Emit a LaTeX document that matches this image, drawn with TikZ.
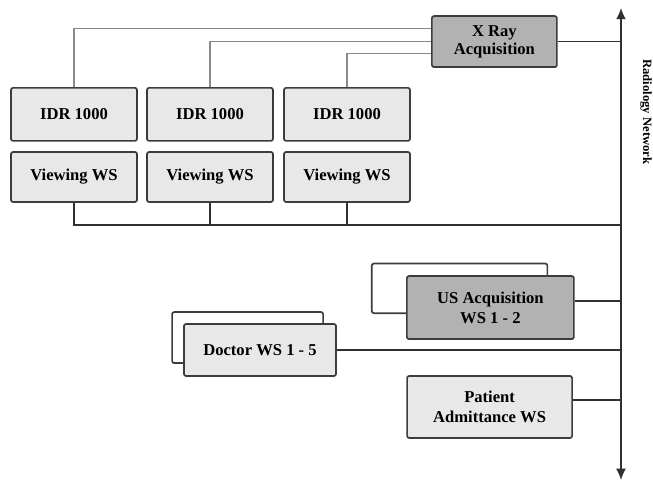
\documentclass[tikz,border=0pt]{standalone}
\usepackage{fontspec}
\setmainfont{Liberation Serif}
\usetikzlibrary{arrows.meta}
\begin{document}
\begin{tikzpicture}[
    box/.style={draw=boxline,line width=1.2pt,rounded corners=1.5pt,fill=lightbox,
      align=center,inner sep=2pt,font=\fontsize{11.8}{14}\selectfont\bfseries},
    darkbox/.style={box,fill=darkfill},
    backbox/.style={draw=boxline,line width=1.2pt,rounded corners=1.5pt,fill=white},
    link/.style={draw=linkgray,line width=1pt},
    bus/.style={draw=busline,line width=1pt}
  ]
  \definecolor{boxline}{HTML}{3C3C3C}
  \definecolor{lightbox}{HTML}{E8E8E8}
  \definecolor{darkfill}{HTML}{B2B2B2}
  \definecolor{linkgray}{HTML}{8A8A8A}
  \definecolor{busline}{HTML}{303030}
  \useasboundingbox (0,0) rectangle (16.325,12.1);
  % network backbone
  \coordinate (nettop) at (15.525,11.9);
  \coordinate (netbot) at (15.525,0.1);
  \draw [bus,{Latex[length=8pt,width=7pt]}-{Latex[length=8pt,width=7pt]}] (netbot) -- (nettop);
  \node [rotate=-90,font=\fontsize{9}{11}\selectfont\bfseries] (netlabel) at (16.15,9.3) {Radiology Network};
  % x ray room
  \node [darkbox,minimum width=3.125cm,minimum height=1.275cm] (xray) at (12.36,11.06) {X Ray\\[-1pt]Acquisition};
  \node [box,minimum width=3.15cm,minimum height=1.325cm] (idr1) at (1.85,9.24) {IDR 1000};
  \node [box,minimum width=3.15cm,minimum height=1.325cm] (idr2) at (5.25,9.24) {IDR 1000};
  \node [box,minimum width=3.15cm,minimum height=1.325cm] (idr3) at (8.675,9.24) {IDR 1000};
  \node [box,minimum width=3.15cm,minimum height=1.25cm] (view1) at (1.85,7.675) {Viewing WS};
  \node [box,minimum width=3.15cm,minimum height=1.25cm] (view2) at (5.25,7.675) {Viewing WS};
  \node [box,minimum width=3.15cm,minimum height=1.25cm] (view3) at (8.675,7.675) {Viewing WS};
  \draw [link] ([yshift=0.32cm]xray.west) -| (idr1.north);
  \draw [link] (xray.west) -| (idr2.north);
  \draw [link] ([yshift=-0.3cm]xray.west) -| (idr3.north);
  \draw [bus] (xray.east) -- (xray.east -| nettop);
  \coordinate (viewbus) at (15.525,6.475);
  \draw [bus] (view1.south) |- (viewbus);
  \draw [bus] (view2.south) -- (view2.south |- viewbus);
  \draw [bus] (view3.south) -- (view3.south |- viewbus);
  % other workstations
  \node [backbox,minimum width=4.39cm,minimum height=1.24cm] (usback) at (11.49,4.89) {};
  \node [darkbox,minimum width=4.175cm,minimum height=1.575cm] (us) at (12.26,4.41) {US Acquisition\\WS 1 - 2};
  \node [backbox,minimum width=3.775cm,minimum height=1.275cm] (docback) at (6.19,3.66) {};
  \node [box,minimum width=3.8cm,minimum height=1.3cm] (doctor) at (6.5,3.35) {Doctor WS 1 - 5};
  \node [box,minimum width=4.125cm,minimum height=1.55cm] (patient) at (12.24,1.925) {Patient\\Admittance WS};
  \draw [bus] ([yshift=0.16cm]us.east) -- ([yshift=0.16cm]us.east -| nettop);
  \draw [bus] (doctor.east) -- (doctor.east -| nettop);
  \draw [bus] ([yshift=0.17cm]patient.east) -- ([yshift=0.17cm]patient.east -| nettop);
\end{tikzpicture}
\end{document}
